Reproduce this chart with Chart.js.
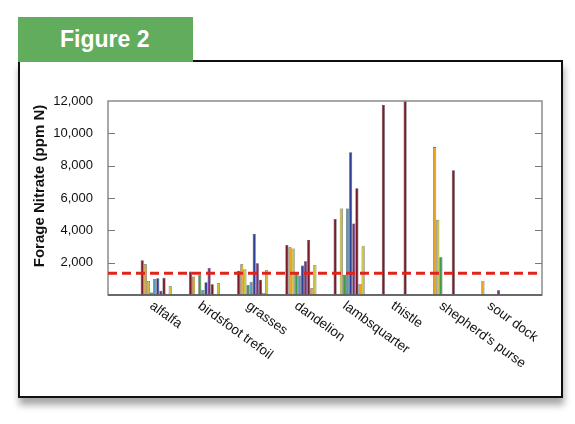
<!DOCTYPE html>
<html>
<head>
<meta charset="utf-8">
<script src="https://cdn.jsdelivr.net/npm/chart.js@4.4.1/dist/chart.umd.min.js"></script>
<style>
    body { margin: 0; background: #fff; }
    #wrap { position: relative; width: 575px; height: 424px; overflow: hidden; }
    #frame {
        position: absolute; left: 18px; top: 60px; width: 545px; height: 338px;
        box-sizing: border-box; border: 2px solid #111; background: #fff;
        box-shadow: 1px 7px 7px rgba(0, 0, 0, 0.35);
    }
    #tab {
        position: absolute; left: 18px; top: 17px; width: 175px; height: 45px;
        background: #62ac5e; color: #fff;
        font: bold 23px "Liberation Sans", Arial, sans-serif;
        line-height: 44px; box-sizing: border-box; padding-left: 42px;
    }
    #myChart { position: absolute; left: 0; top: 0; }
</style>
</head>
<body>
<div id="wrap">
    <div id="frame"></div>
    <div id="tab">Figure 2</div>
    <canvas id="myChart" width="575" height="424"></canvas>
</div>
<script>
// forage categories
var categories = ['alfalfa', 'birdsfoot trefoil', 'grasses', 'dandelion', 'lambsquarter', 'thistle', "shepherd's purse", 'sour dock'];

// nitrate values (ppm N) per sample, one value per category
var s1 = [2150, 1450, 1500, 3100, 4700, 11750, null, null];
var s2 = [1900, 1150, 1900, 2950, null, null, 9150, 880];
var s3 = [870, null, 1600, 2880, 5350, null, 4650, null];
var s4 = [150, 1260, 620, 1300, 1250, null, 2330, null];
var s5 = [990, 310, 820, 1200, 5350, null, null, null];
var s6 = [1030, 790, 3770, 1820, 8830, null, null, null];
var s7 = [270, 1670, 1960, 2080, 4430, null, null, 290];
var s8 = [1070, 660, 950, 3400, 6600, 12000, 7720, null];
var s9 = [null, null, 145, 410, 680, null, null, null];
var s10 = [560, 720, 1550, 1860, 3050, null, null, null];

var yTicks = [0, 2000, 4000, 6000, 8000, 10000, 12000];
var threshold = 1350; // dashed reference line

var series = [s1, s2, s3, s4, s5, s6, s7, s8, s9, s10];
var colors = ['#7a1c28', '#eba21c', '#c9c437', '#3f9a4a', '#4a9cc4', '#2f3f98', '#7b2d8b', '#7a1c28', '#eba21c', '#c9c437'];

var labels = [''].concat(categories, ['']);

var datasets = series.map(function (s, i) {
    return {
        label: 'Sample ' + (i + 1),
        data: [null].concat(s, [null]),
        backgroundColor: colors[i],
        borderColor: 'rgba(30,20,20,0.8)',
        borderWidth: 0.6,
        borderSkipped: 'start',
        categoryPercentage: 0.645,
        barPercentage: 1.0
    };
});

var decor = {
    id: 'decor',
    afterDatasetsDraw: function (chart) {
        var ctx = chart.ctx;
        var a = chart.chartArea;
        var x = chart.scales.x;
        var y = chart.scales.y;
        ctx.save();

        // plot frame
        ctx.strokeStyle = '#8c8c8c';
        ctx.lineWidth = 1.5;
        ctx.strokeRect(a.left, a.top, a.right - a.left, a.bottom - a.top);
        ctx.strokeStyle = '#555';
        ctx.beginPath();
        ctx.moveTo(a.left, a.bottom);
        ctx.lineTo(a.right, a.bottom);
        ctx.stroke();

        // inward tick marks, both sides
        ctx.strokeStyle = '#777';
        ctx.lineWidth = 1;
        yTicks.forEach(function (v) {
            if (v === 0 || v === 12000) return;
            var py = Math.round(y.getPixelForValue(v)) + 0.5;
            ctx.beginPath();
            ctx.moveTo(a.left, py);
            ctx.lineTo(a.left + 7, py);
            ctx.moveTo(a.right, py);
            ctx.lineTo(a.right - 7, py);
            ctx.stroke();
        });

        // threshold line
        var ty = y.getPixelForValue(threshold);
        ctx.strokeStyle = '#e0241b';
        ctx.lineWidth = 3;
        ctx.setLineDash([9, 5]);
        ctx.beginPath();
        ctx.moveTo(a.left, ty);
        ctx.lineTo(a.right, ty);
        ctx.stroke();
        ctx.setLineDash([]);

        // slanted category labels
        ctx.fillStyle = '#111';
        ctx.font = '13.5px "Liberation Sans", Arial, sans-serif';
        ctx.textAlign = 'left';
        ctx.textBaseline = 'top';
        categories.forEach(function (c, i) {
            var px = x.getPixelForValue(i + 1);
            ctx.save();
            ctx.translate(px - 1, a.bottom + 4);
            ctx.rotate(36 * Math.PI / 180);
            ctx.fillText(c, 0, 0);
            ctx.restore();
        });

        // y axis title
        ctx.save();
        ctx.translate(40, 186);
        ctx.rotate(-Math.PI / 2);
        ctx.font = 'bold 15px "Liberation Sans", Arial, sans-serif';
        ctx.textAlign = 'center';
        ctx.textBaseline = 'middle';
        ctx.fillText('Forage Nitrate (ppm N)', 0, 0);
        ctx.restore();

        ctx.restore();
    }
};

new Chart(document.getElementById('myChart'), {
    type: 'bar',
    data: { labels: labels, datasets: datasets },
    options: {
        responsive: false,
        animation: false,
        devicePixelRatio: 1,
        layout: { padding: { left: 0, top: 101, right: 33, bottom: 0 } },
        plugins: {
            legend: { display: false },
            tooltip: { enabled: false }
        },
        scales: {
            x: {
                type: 'category',
                offset: false,
                grid: { display: false },
                border: { display: false },
                ticks: { display: false },
                afterFit: function (scale) { scale.height = 129; }
            },
            y: {
                min: 0,
                max: 12000,
                grid: { display: false },
                border: { display: false },
                afterBuildTicks: function (scale) {
                    scale.ticks = yTicks.map(function (v) { return { value: v }; });
                },
                ticks: {
                    padding: 7,
                    color: '#111',
                    font: { family: '"Liberation Sans", Arial, sans-serif', size: 13 },
                    callback: function (v) { return v === 0 ? '' : v.toLocaleString('en-US'); }
                },
                afterFit: function (scale) { scale.width = 108; }
            }
        }
    },
    plugins: [decor]
});
</script>
</body>
</html>
